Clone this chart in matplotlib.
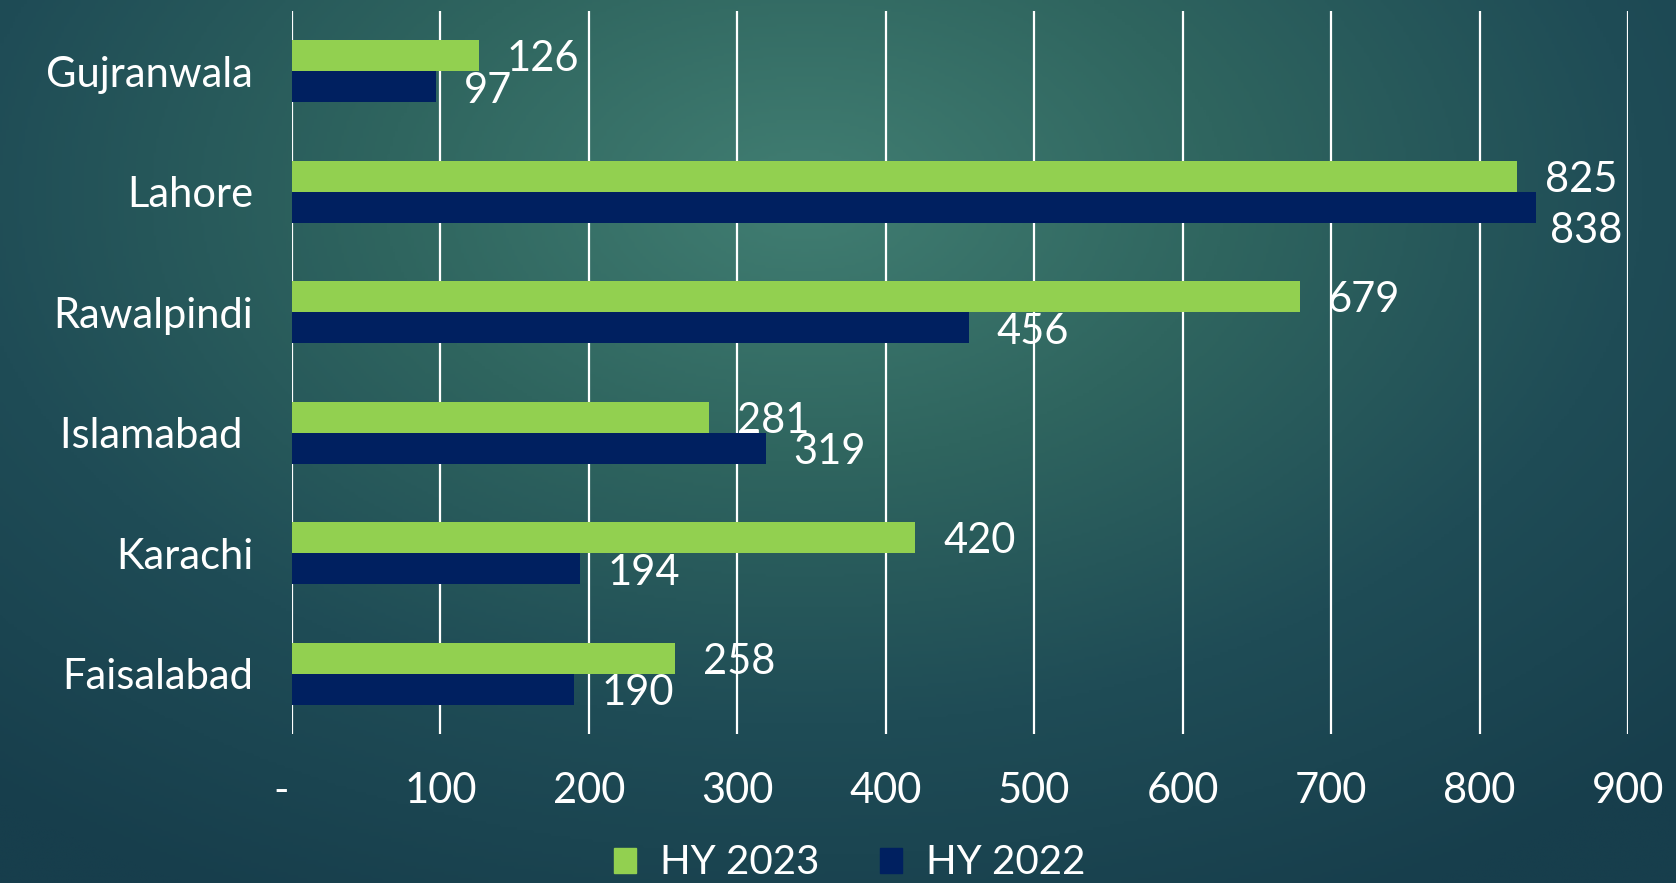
import numpy as np
import matplotlib
matplotlib.use("Agg")
import matplotlib.pyplot as plt
from matplotlib.colors import LinearSegmentedColormap
from matplotlib.patches import Patch

cities = ["Gujranwala", "Lahore", "Rawalpindi", "Islamabad ", "Karachi", "Faisalabad"]
hy2023 = [126, 825, 679, 281, 420, 258]
hy2022 = [97, 838, 456, 319, 194, 190]
xticks = [0, 100, 200, 300, 400, 500, 600, 700, 800, 900]
xtick_labels = ["-  ", "100", "200", "300", "400", "500", "600", "700", "800", "900"]

green = "#92d050"
navy = "#002060"

plt.rcParams['font.family'] = ['Lato', 'DejaVu Sans']
fs = 30

fig = plt.figure(figsize=(16.76, 8.83), dpi=100)

# background gradient
bg = fig.add_axes([0, 0, 1, 1], zorder=-10)
yy, xx = np.mgrid[0:1:300j, 0:1:600j]
r = np.sqrt(((xx - 0.48) / 0.75) ** 2 + ((yy - 0.22) / 0.9) ** 2)
cmap = LinearSegmentedColormap.from_list("bg", ["#417e72", "#2f655f", "#1f4c56", "#173e4c"])
bg.imshow(np.clip(r, 0, 1), cmap=cmap, aspect='auto', extent=[0, 1, 1, 0])
bg.axis('off')

ax = fig.add_axes([0.1742, 0.1687, 0.9714 - 0.1742, 0.9875 - 0.1687])
ax.set_facecolor('none')
y = np.arange(len(cities))
h = 0.257
ax.barh(y - h / 2, hy2023, height=h, color=green, zorder=3)
ax.barh(y + h / 2, hy2022, height=h, color=navy, zorder=3)

ax.set_xlim(0, 900)
ax.set_ylim(len(cities) - 0.5, -0.5)
ax.set_xticks(xticks)
ax.set_xticklabels(xtick_labels)
ax.set_yticks(y)
ax.set_yticklabels(cities)
ax.tick_params(axis='both', length=0, colors='white', labelsize=fs)
ax.tick_params(axis='x', pad=27)
ax.tick_params(axis='y', pad=28)
ax.grid(axis='x', color='white', lw=1.6, zorder=1)
for s in ax.spines.values():
    s.set_visible(False)

# label offsets in points (special case: Lahore 2022 moved down)
extra = {("22", 1): (-10, -14)}
for i, v in enumerate(hy2023):
    ax.annotate(str(v), (v, i - h / 2), xytext=(20, -2.5), textcoords='offset points',
                ha='left', va='center', color='white', fontsize=fs)
for i, v in enumerate(hy2022):
    dx, dy = extra.get(("22", i), (0, 0))
    ax.annotate(str(v), (v, i + h / 2), xytext=(20 + dx, dy - 3), textcoords='offset points',
                ha='left', va='center', color='white', fontsize=fs)

handles = [Patch(color=green, label="HY 2023"), Patch(color=navy, label="HY 2022")]
fig.legend(handles=handles, loc='center', bbox_to_anchor=(850 / 1676, 1 - 863 / 883),
           ncol=2, frameon=False, fontsize=29, labelcolor='white',
           handlelength=0.55, handleheight=0.6, handletextpad=0.6, columnspacing=1.5)

fig.savefig("out.png", dpi=100)
